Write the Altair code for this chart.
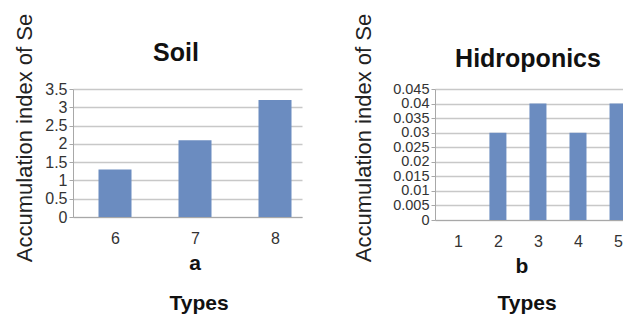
import altair as alt
import pandas as pd

# ---- data ----
soil_types = [6, 7, 8]
soil_values = [1.3, 2.1, 3.2]
soil_ticks = [0, 0.5, 1, 1.5, 2, 2.5, 3, 3.5]

hydro_types = [1, 2, 3, 4, 5]
hydro_values = [0, 0.03, 0.04, 0.03, 0.04]
hydro_ticks = [0, 0.005, 0.01, 0.015, 0.02, 0.025, 0.03, 0.035, 0.04, 0.045]

panel_titles = ["Soil", "Hidroponics"]
panel_letters = ["a", "b"]
y_title = "Accumulation index of Se"
x_title = "Types"

FONT = "Liberation Sans"
BAR = "#6b8cc0"
GRID = "#c8c8c8"
AXIS = "#a8a8a8"
LABEL = "#333333"


def text_layer(txt, x, y, size, bold=False, angle=0, color="#111111"):
    df = pd.DataFrame({"t": [txt]})
    kw = dict(font=FONT, fontSize=size, align="center", baseline="alphabetic",
              color=color, fontWeight="bold" if bold else "normal")
    if angle:
        kw["angle"] = angle
    return alt.Chart(df).mark_text(**kw).encode(
        text="t:N", x=alt.value(x), y=alt.value(y)
    )


def panel(types, values, xdom, ydom, yticks, w, h, barw, ylabel_size,
          title, title_xy, letter, letter_xy, types_xy, ytitle_xy):
    df = pd.DataFrame({"type": types, "value": values})
    bars = alt.Chart(df).mark_bar(orient="vertical", size=barw, color=BAR, clip=True).encode(
        x=alt.X("type:Q",
                scale=alt.Scale(domain=xdom, nice=False, zero=False, padding=0),
                axis=alt.Axis(values=types, format="d", title=None, grid=False,
                              ticks=False, labelPadding=13, labelFontSize=16,
                              labelFont=FONT, labelColor=LABEL, domainColor=AXIS,
                              labelFlush=False, labelOverlap=False)),
        y=alt.Y("value:Q",
                scale=alt.Scale(domain=ydom, nice=False, zero=True, padding=0),
                axis=alt.Axis(values=yticks, format="~g", title=None, grid=True,
                              gridColor=GRID, gridWidth=1.5, tickSize=4,
                              tickColor=AXIS, domainColor=AXIS, labelFontSize=ylabel_size,
                              labelFont=FONT, labelColor=LABEL, labelOverlap=False,
                              labelFlush=False, labelPadding=2)),
    )
    layers = [
        bars,
        text_layer(title, title_xy[0], title_xy[1], 25, bold=True),
        text_layer(letter, letter_xy[0], letter_xy[1], 21, bold=True),
        text_layer(x_title, types_xy[0], types_xy[1], 21, bold=True),
        text_layer(y_title, ytitle_xy[0], ytitle_xy[1], 22, angle=270, color="#222222"),
    ]
    return alt.layer(*layers).properties(width=w, height=h)


left = panel(soil_types, soil_values, [5.475, 8.3375], [0, 3.5], soil_ticks,
             229, 128, 33, 16,
             panel_titles[0], (103, -28), panel_letters[0], (122, 181), (126, 221), (-41, 49))

right = panel(hydro_types, hydro_values, [0.4286, 5.124], [0, 0.045], hydro_ticks,
              188, 131, 17, 14.5,
              panel_titles[1], (93, -22), panel_letters[1], (87, 184), (92, 221), (-64, 49))

chart = alt.hconcat(left, right, spacing=133, bounds="flush").properties(
    padding={"left": 5, "top": 5, "right": 0, "bottom": 0}
).configure_view(stroke=None)

chart.save("out.html", embed_options={"renderer": "svg", "actions": False})
